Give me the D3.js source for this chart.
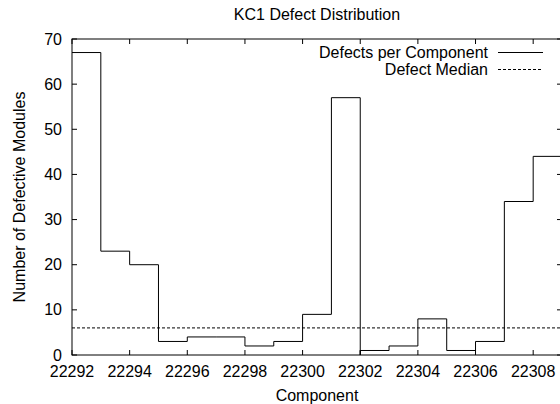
<!DOCTYPE html>
<html lang="en">
<head>
    <meta charset="UTF-8">
    <title>KC1 Defect Distribution</title>
    <script src="https://d3js.org/d3.v7.min.js"></script>
    <style>
        body { margin: 0; background: #fff; }
        svg { display: block; }
        text { font-family: "Liberation Sans", Arial, sans-serif; font-size: 16px; fill: #000; }
    </style>
</head>
<body>
    <svg id="chart" width="560" height="404"></svg>
    <script>
        // Data: component id and defective module count.
        // 22302 appears twice: the line drops to the axis there before the next run starts.
        const components = [22292, 22293, 22294, 22295, 22296, 22297, 22298, 22299, 22300,
                            22301, 22302, 22302, 22303, 22304, 22305, 22306, 22307, 22308, 22309];
        const defects    = [67, 23, 20, 3, 4, 4, 2, 3, 9,
                            57, 0, 1, 2, 8, 1, 3, 34, 44, 44];
        const medianDefects = 6;

        const xTicks = [22292, 22294, 22296, 22298, 22300, 22302, 22304, 22306, 22308];
        const yTicks = [0, 10, 20, 30, 40, 50, 60, 70];

        const svg = d3.select("#chart");
        const plotL = 72, plotR = 562, plotT = 39, plotB = 355;

        const x = d3.scaleLinear().domain([22292, 22309]).range([plotL, plotR]);
        const y = d3.scaleLinear().domain([0, 70]).range([plotB, plotT]);

        const points = components.map((c, i) => ({ c: c, v: defects[i] }));

        // clip so the step line stays inside the frame
        svg.append("clipPath").attr("id", "plot-clip")
            .append("rect").attr("x", plotL).attr("y", plotT)
            .attr("width", plotR - plotL).attr("height", plotB - plotT);

        // axes: ticks point inward, mirrored on the opposite side
        const tickLen = 5;
        const g = svg.append("g").attr("stroke", "#000").attr("stroke-width", 1).attr("fill", "none");

        xTicks.forEach(t => {
            g.append("line").attr("x1", x(t)).attr("x2", x(t)).attr("y1", plotB).attr("y2", plotB - tickLen);
            g.append("line").attr("x1", x(t)).attr("x2", x(t)).attr("y1", plotT).attr("y2", plotT + tickLen);
        });
        yTicks.forEach(t => {
            g.append("line").attr("x1", plotL).attr("x2", plotL + tickLen).attr("y1", y(t)).attr("y2", y(t));
            g.append("line").attr("x1", plotR).attr("x2", plotR - tickLen).attr("y1", y(t)).attr("y2", y(t));
        });

        svg.append("g").selectAll("text").data(xTicks).join("text")
            .attr("x", d => x(d)).attr("y", 377)
            .attr("text-anchor", "middle")
            .text(d => d);

        svg.append("g").selectAll("text").data(yTicks).join("text")
            .attr("x", 62).attr("y", d => y(d) + 5.5)
            .attr("text-anchor", "end")
            .text(d => d);

        // median line
        svg.append("line")
            .attr("x1", plotL).attr("x2", plotR)
            .attr("y1", y(medianDefects)).attr("y2", y(medianDefects))
            .attr("stroke", "#000").attr("stroke-width", 1)
            .attr("stroke-dasharray", "3,2");

        // defects per component as steps
        const line = d3.line()
            .x(d => x(d.c))
            .y(d => y(d.v))
            .curve(d3.curveStepAfter);

        svg.append("path")
            .datum(points)
            .attr("clip-path", "url(#plot-clip)")
            .attr("d", line)
            .attr("fill", "none")
            .attr("stroke", "#000")
            .attr("stroke-width", 1);

        // frame
        svg.append("rect")
            .attr("x", plotL).attr("y", plotT)
            .attr("width", plotR - plotL).attr("height", plotB - plotT)
            .attr("fill", "none").attr("stroke", "#000").attr("stroke-width", 1);

        // legend
        const legend = [
            { label: "Defects per Component", dash: null, y: 58 },
            { label: "Defect Median", dash: "3,2", y: 75 }
        ];
        legend.forEach(l => {
            svg.append("text").attr("x", 488).attr("y", l.y)
                .attr("text-anchor", "end").text(l.label);
            svg.append("line")
                .attr("x1", 498).attr("x2", 543)
                .attr("y1", l.y - 5.5).attr("y2", l.y - 5.5)
                .attr("stroke", "#000").attr("stroke-width", 1)
                .attr("stroke-dasharray", l.dash);
        });

        // titles
        svg.append("text")
            .attr("x", (plotL + plotR) / 2).attr("y", 19.5)
            .attr("text-anchor", "middle")
            .text("KC1 Defect Distribution");

        svg.append("text")
            .attr("x", (plotL + plotR) / 2).attr("y", 401)
            .attr("text-anchor", "middle")
            .text("Component");

        svg.append("text")
            .attr("transform", `translate(25,${(plotT + plotB) / 2}) rotate(-90)`)
            .attr("text-anchor", "middle")
            .text("Number of Defective Modules");
    </script>
</body>
</html>
